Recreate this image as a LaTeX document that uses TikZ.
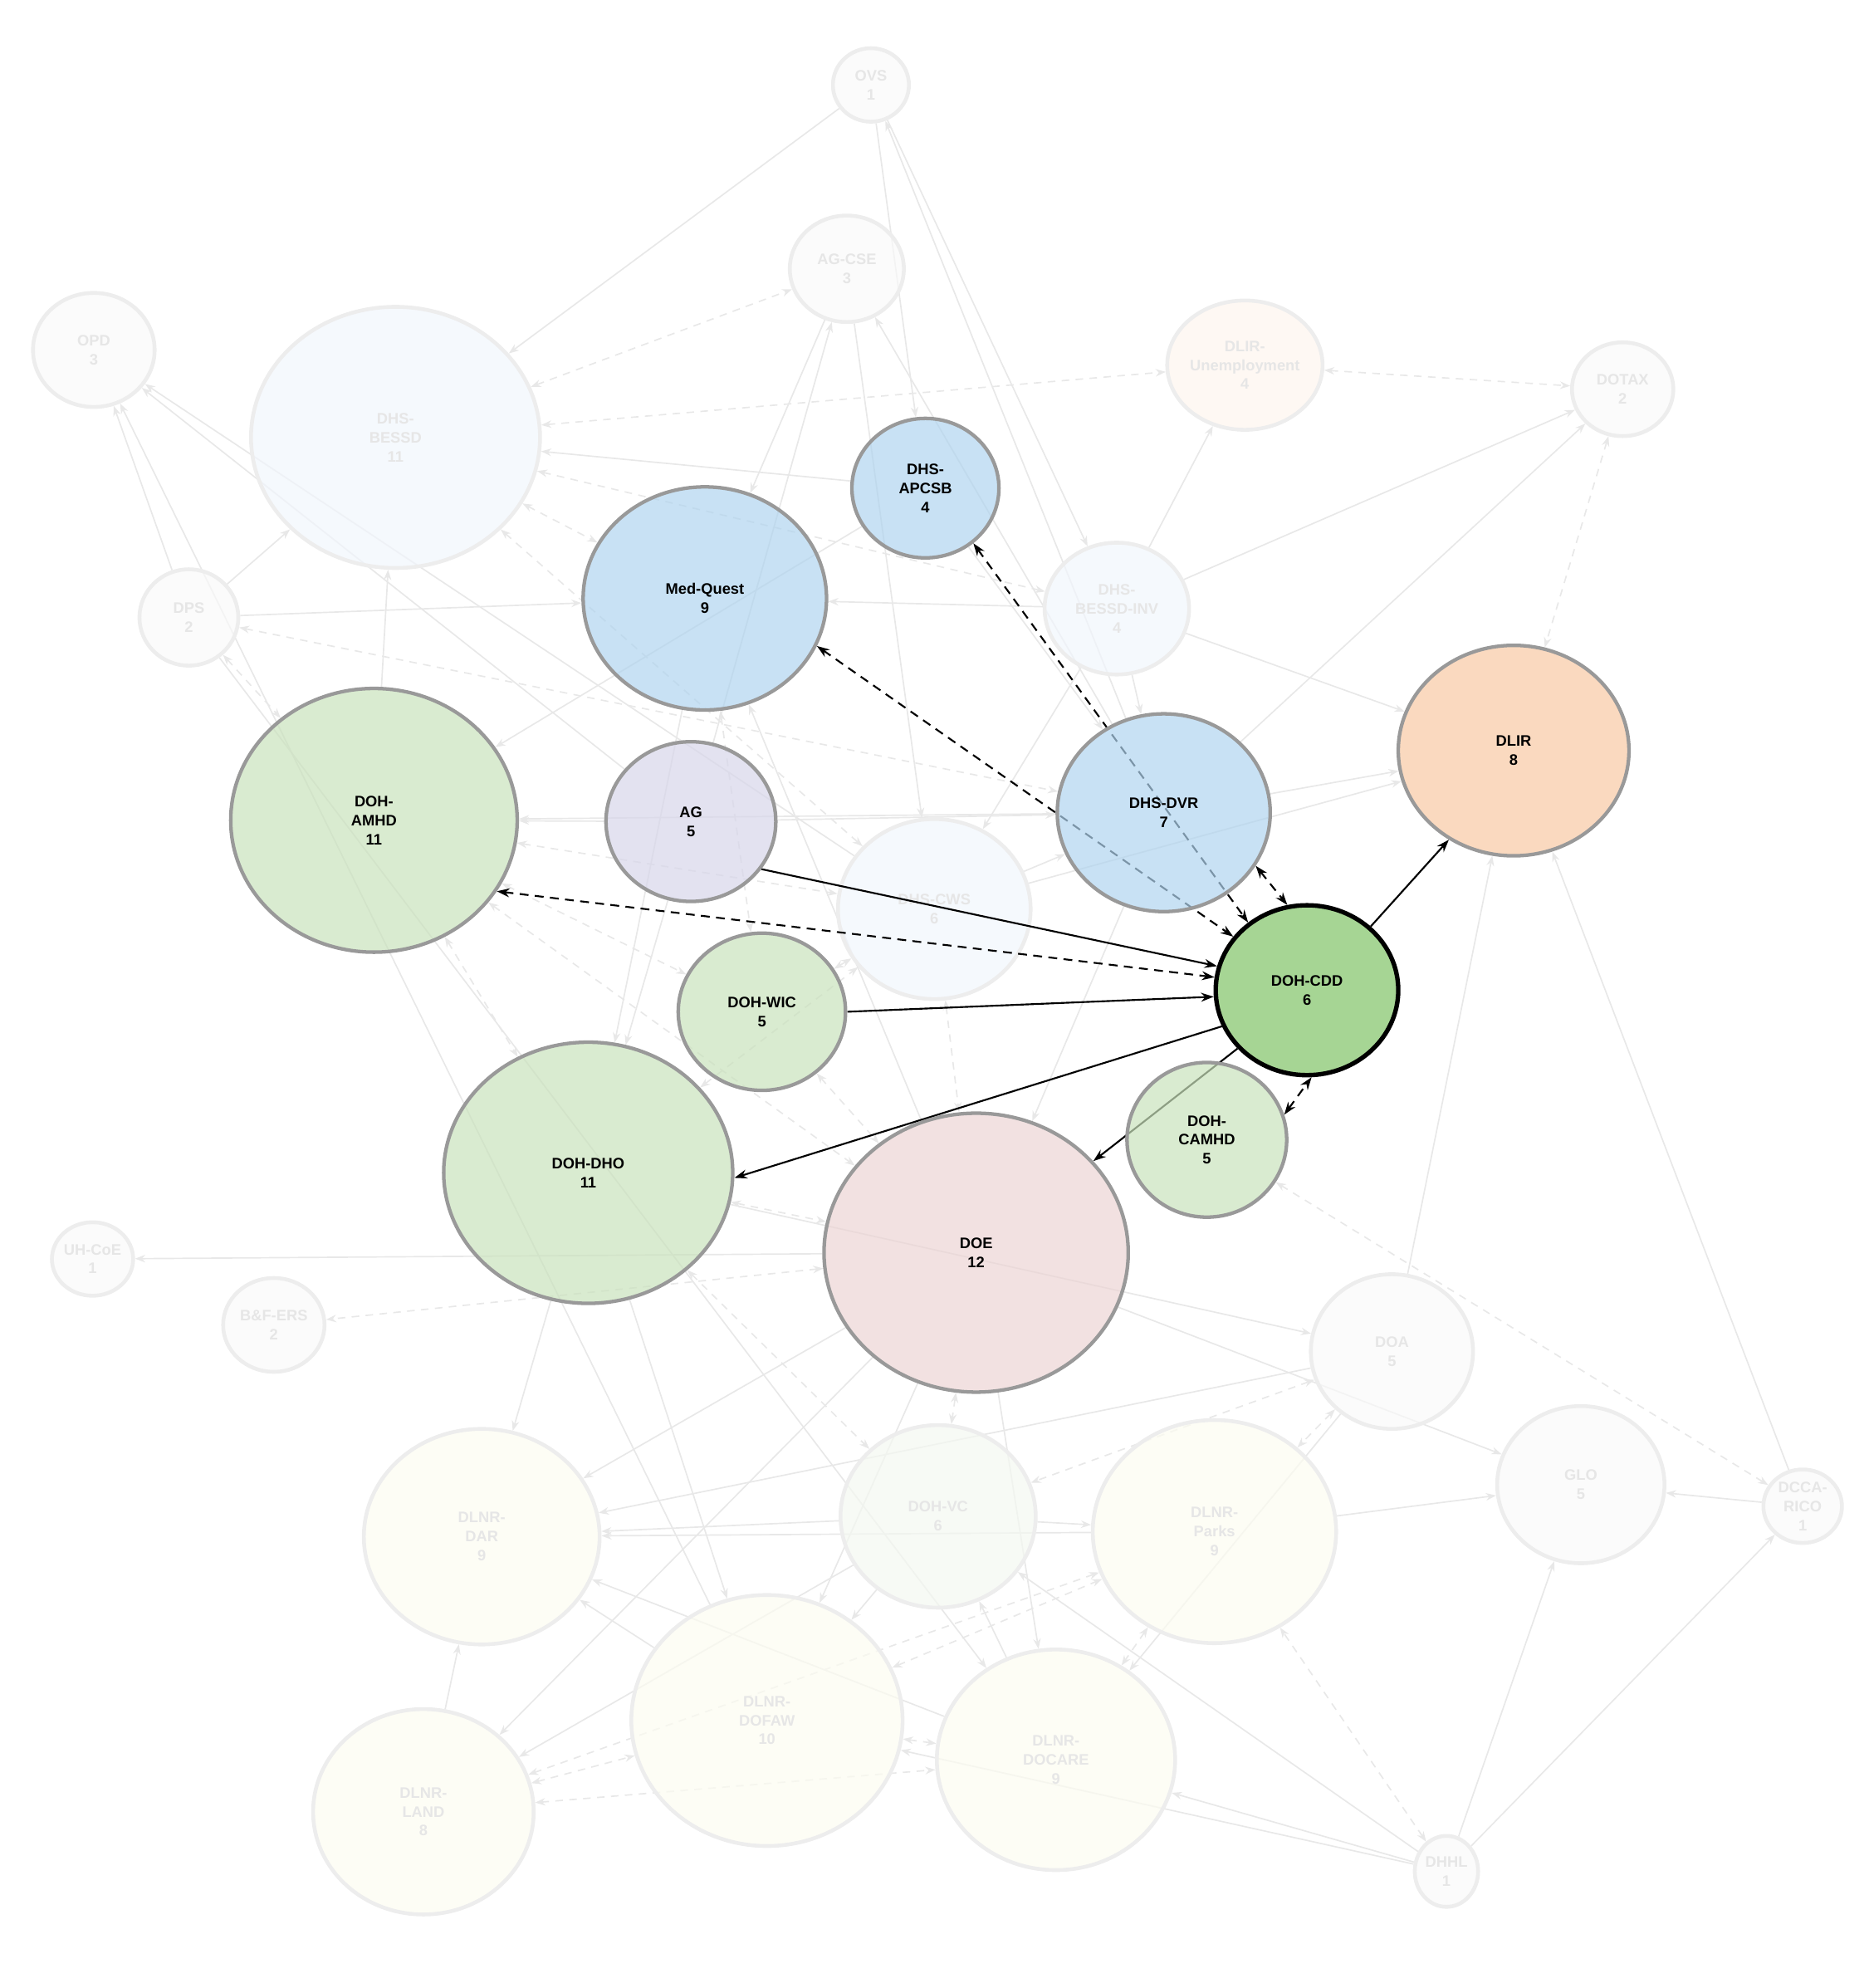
\documentclass[tikz,border=0pt]{standalone}
\usepackage{fontspec}
\setmainfont{Liberation Sans}
\usetikzlibrary{shapes.geometric,arrows.meta}
\pgfdeclarelayer{fedge}
\pgfdeclarelayer{fnode}
\pgfdeclarelayer{hedge}
\pgfsetlayers{fedge,fnode,hedge,main}
\definecolor{hblue}{HTML}{B0D4EF}
\definecolor{hgreen}{HTML}{C9E2BC}
\definecolor{hcdd}{HTML}{80C366}
\definecolor{hpeach}{HTML}{F8C9A4}
\definecolor{hlav}{HTML}{D7D6EA}
\definecolor{hpink}{HTML}{ECD4D4}
\definecolor{fblue}{HTML}{F1F6FC}
\definecolor{fyellow}{HTML}{FCFCF1}
\definecolor{fgray}{HTML}{F9F9F9}
\definecolor{fpeach}{HTML}{FEF5EE}
\definecolor{fgreen}{HTML}{F4F8F1}
\definecolor{fline}{HTML}{E8E8E8}
\definecolor{fborder}{HTML}{EDEDED}
\definecolor{ftext}{HTML}{E6E6E6}
\definecolor{hborder}{HTML}{999999}
\begin{document}
\begin{tikzpicture}[x=1pt,y=-1pt,
  rs/.style n args={2}{minimum width={2*#1}, minimum height={2*#2}},
  lbl/.style={font=\fontsize{12}{15}\selectfont\bfseries, align=center},
  hn/.style={ellipse, lbl, draw=hborder, line width=2.8pt, fill opacity=0.7, text opacity=1, inner sep=0pt},
  fn/.style={ellipse, lbl, draw=fborder, line width=3pt, fill opacity=0.7, text opacity=1, text=ftext, inner sep=0pt},
  fe/.style={draw=fline, line width=1.1pt, -{Stealth[length=8pt,width=6pt]}},
  fd/.style={draw=fline, line width=1.1pt, dash pattern=on 6pt off 5pt, {Stealth[length=8pt,width=6pt]}-{Stealth[length=8pt,width=6pt]}},
  he/.style={draw=black, line width=1.4pt, -{Stealth[length=10pt,width=7pt]}},
  hd/.style={draw=black, line width=1.4pt, dash pattern=on 7pt off 5pt, {Stealth[length=10pt,width=7pt]}-{Stealth[length=10pt,width=7pt]}}
]
\useasboundingbox (0,0) rectangle (1474,1568);

% faded nodes
\begin{pgfonlayer}{fnode}
\node[fn, fill=fgray, rs={30}{29}] (ovs) at (687,67) {OVS\\1};
\node[fn, fill=fgray, rs={45}{42}] (agcse) at (668,212) {AG-CSE\\3};
\node[fn, fill=fgray, rs={48}{45}] (opd) at (74,276) {OPD\\3};
\node[fn, fill=fblue, rs={114}{103}] (bessd) at (312,345) {DHS-\\BESSD\\11};
\node[fn, fill=fpeach, rs={55}{51}] (unemp) at (982,288) {DLIR-\\Unemployment\\4};
\node[fn, fill=fgray, rs={40}{37}] (dotax) at (1280,307) {DOTAX\\2};
\node[fn, fill=fgray, rs={39}{38}] (dps) at (149,487) {DPS\\2};
\node[fn, fill=fblue, rs={57}{52}] (inv) at (881,480) {DHS-\\BESSD-INV\\4};
\node[fn, fill=fblue, rs={76}{71}] (cws) at (737,717) {DHS-CWS\\6};
\node[fn, fill=fgray, rs={31}{29}] (uhcoe) at (73,993) {UH-CoE\\1};
\node[fn, fill=fgray, rs={40}{37}] (bfers) at (216,1045) {B\&F-ERS\\2};
\node[fn, fill=fgray, rs={64}{61}] (doa) at (1098,1066) {DOA\\5};
\node[fn, fill=fgray, rs={66}{62}] (glo) at (1247,1171) {GLO\\5};
\node[fn, fill=fgray, rs={31}{29}] (dcca) at (1422,1188) {DCCA-\\RICO\\1};
\node[fn, fill=fyellow, rs={93}{85}] (dar) at (380,1212) {DLNR-\\DAR\\9};
\node[fn, fill=fgreen, rs={77}{72}] (vc) at (740,1196) {DOH-VC\\6};
\node[fn, fill=fyellow, rs={96}{88}] (parks) at (958,1208) {DLNR-\\Parks\\9};
\node[fn, fill=fyellow, rs={107}{99}] (dofaw) at (605,1357) {DLNR-\\DOFAW\\10};
\node[fn, fill=fyellow, rs={87}{81}] (land) at (334,1429) {DLNR-\\LAND\\8};
\node[fn, fill=fyellow, rs={94}{87}] (docare) at (833,1388) {DLNR-\\DOCARE\\9};
\node[fn, fill=fgray, rs={25}{28}] (dhhl) at (1141,1476) {DHHL\\1};
\end{pgfonlayer}

% highlighted nodes
\node[hn, fill=hcdd, draw=black, line width=3.5pt, rs={72}{67}] (cdd) at (1031,781) {DOH-CDD\\6};
\node[hn, fill=hpeach, rs={91}{83}] (dlir) at (1194,592) {DLIR\\8};
\node[hn, fill=hblue, rs={84}{78}] (dvr) at (918,641) {DHS-DVR\\7};
\node[hn, fill=hblue, rs={58}{55}] (apcsb) at (730,385) {DHS-\\APCSB\\4};
\node[hn, fill=hblue, rs={96}{88}] (mq) at (556,472) {Med-Quest\\9};
\node[hn, fill=hlav, rs={67}{63}] (ag) at (545,648) {AG\\5};
\node[hn, fill=hgreen, rs={113}{104}] (amhd) at (295,647) {DOH-\\AMHD\\11};
\node[hn, fill=hgreen, rs={66}{62}] (wic) at (601,798) {DOH-WIC\\5};
\node[hn, fill=hgreen, rs={114}{103}] (dho) at (464,925) {DOH-DHO\\11};
\node[hn, fill=hpink, rs={120}{110}] (doe) at (770,988) {DOE\\12};
\node[hn, fill=hgreen, rs={63}{61}] (camhd) at (952,899) {DOH-\\CAMHD\\5};

% faded edges
\begin{pgfonlayer}{fedge}
\foreach \a/\b in {ovs/bessd, ovs/inv, ovs/apcsb, dvr/ovs, agcse/mq, ag/agcse, agcse/cws, dvr/agcse,
  apcsb/bessd, dps/opd, dofaw/opd, ag/opd, cws/opd, dps/bessd, dps/mq, amhd/bessd, apcsb/amhd,
  ag/amhd, dvr/amhd, inv/mq, inv/dvr, inv/dlir, inv/unemp, inv/dotax, dvr/dotax, dvr/dlir, cws/dlir,
  doa/dlir, dcca/dlir, dhhl/glo, dhhl/dcca, dcca/glo, doe/glo, parks/glo, dho/doa, doa/dar, vc/dar,
  parks/dar, doe/dar, docare/dar, dofaw/dar, land/dar, doe/land, vc/land, dhhl/dofaw, dhhl/docare,
  dhhl/vc, docare/vc, vc/parks, doa/docare, doe/docare, vc/dofaw, doe/dofaw, dho/dar, doe/uhcoe,
  dho/dofaw, dps/docare, ag/dvr, inv/cws, apcsb/dvr, dvr/doe, ag/dho, mq/dho, doe/mq, cws/dvr}
  \draw[fe] (\a) -- (\b);
\foreach \a/\b in {bessd/agcse, bessd/unemp, bessd/inv, bessd/mq, bessd/cws, unemp/dotax, dotax/dlir,
  camhd/dcca, doe/bfers, doa/vc, doa/parks, dhhl/parks, land/parks, land/dofaw, land/docare,
  dofaw/docare, dofaw/parks, parks/docare, doe/vc, dps/amhd, dps/dvr, amhd/dho, amhd/wic, amhd/doe,
  amhd/cws, mq/wic, wic/cws, dho/doe, dho/cws, wic/doe, dho/vc, cws/doe}
  \draw[fd] (\a) -- (\b);
\end{pgfonlayer}

% highlighted edges
\begin{pgfonlayer}{hedge}
\draw[he] (ag.-34) -- (cdd.165);
\draw[he] (wic.0) -- (cdd.184);
\draw[he] (cdd.203) -- (dho.-2);
\draw[he] (cdd.220) -- (doe.38);
\draw[he] (cdd.45) -- (dlir.234);
\draw[hd] (amhd.-30) -- (cdd.172);
\draw[hd] (mq.-23) -- (cdd.144);
\draw[hd] (apcsb.-49) -- (cdd.131);
\draw[hd] (dvr.-30) -- (cdd.103);
\draw[hd] (camhd.18) -- (cdd.-87);
\end{pgfonlayer}
\end{tikzpicture}
\end{document}
